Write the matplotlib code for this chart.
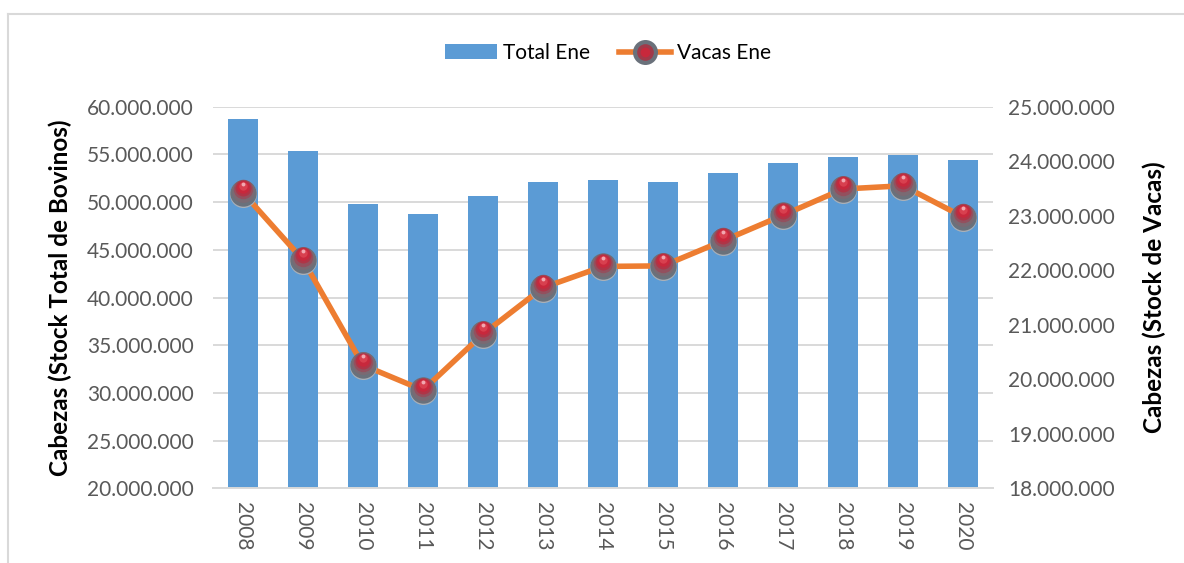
import matplotlib
matplotlib.use('Agg')
import numpy as np
import matplotlib.pyplot as plt
from matplotlib.ticker import FuncFormatter, MultipleLocator
from matplotlib.transforms import offset_copy
from matplotlib.lines import Line2D
from matplotlib.patches import Patch
from matplotlib.legend_handler import HandlerTuple

plt.rcParams['font.family'] = ['Lato', 'DejaVu Sans']

years = ['2008', '2009', '2010', '2011', '2012', '2013', '2014',
         '2015', '2016', '2017', '2018', '2019', '2020']
total_ene = [58.7e6, 55.4e6, 49.8e6, 48.8e6, 50.6e6, 52.1e6, 52.3e6,
             52.1e6, 53.1e6, 54.1e6, 54.7e6, 54.9e6, 54.4e6]
vacas_ene = [23.42e6, 22.19e6, 20.26e6, 19.80e6, 20.83e6, 21.68e6, 22.07e6,
             22.08e6, 22.54e6, 23.01e6, 23.49e6, 23.55e6, 22.98e6]

BLUE = '#5B9BD5'
ORANGE = '#ED7D31'
GRID = '#D9D9D9'
TICK = '#595959'

fig = plt.figure(figsize=(11.84, 5.63), dpi=100)
W, H = 1184, 563

# outer chart border (top and left visible)
fig.add_artist(Line2D([8 / W, 1.0], [1 - 14 / H] * 2, transform=fig.transFigure,
                      color=GRID, lw=1.5))
fig.add_artist(Line2D([8 / W] * 2, [0.0, 1 - 14 / H], transform=fig.transFigure,
                      color=GRID, lw=1.5))

left, right, top, bottom = 213, 993, 106.7, 488.3
ax = fig.add_axes([left / W, 1 - bottom / H, (right - left) / W, (bottom - top) / H])

x = np.arange(len(years))
ax.bar(x, total_ene, width=0.5, color=BLUE, zorder=2)
ax.set_xlim(-0.5, len(years) - 0.5)
ax.set_ylim(20e6, 60e6)
ax.yaxis.set_major_locator(MultipleLocator(5e6))
fmt = FuncFormatter(lambda v, p: f'{int(round(v)):,}'.replace(',', '.'))
ax.yaxis.set_major_formatter(fmt)
ax.grid(axis='y', color=GRID, lw=1.4, zorder=0)
ax.set_axisbelow(True)
for s in ['left', 'right', 'top']:
    ax.spines[s].set_visible(False)
ax.spines['bottom'].set_color(GRID)
ax.spines['bottom'].set_linewidth(1.4)
ax.set_xticks(x)
ax.set_xticklabels(years, rotation=270)
ax.tick_params(axis='y', length=0, labelcolor=TICK, labelsize=15, pad=14)
ax.tick_params(axis='x', length=0, labelcolor=TICK, labelsize=15, pad=10)
ax.set_ylabel('Cabezas (Stock Total de Bovinos)', fontsize=17.5, fontweight='bold', color='black')
ax.yaxis.set_label_coords(-0.181, 0.5)

ax2 = ax.twinx()
ax2.set_ylim(18e6, 25e6)
ax2.yaxis.set_major_locator(MultipleLocator(1e6))
ax2.yaxis.set_major_formatter(fmt)
for s in ['left', 'right', 'top', 'bottom']:
    ax2.spines[s].set_visible(False)
ax2.tick_params(axis='y', length=0, labelcolor=TICK, labelsize=15, pad=11)
ax2.set_ylabel('Cabezas (Stock de Vacas)', fontsize=17.5, fontweight='bold', color='black',
               rotation=90)
ax2.yaxis.set_label_coords(1.192, 0.5)

ax2.plot(x, vacas_ene, color=ORANGE, lw=4, zorder=3, solid_capstyle='round')

# sphere-like markers: layered circles (size pt, colour, vertical offset pt)
layers = [
    (19.5, '#a9b0b8', -0.6),
    (19.0, '#6a717b', 0.0),
    (16.5, '#7a6a73', 1.2),
    (14.0, '#93505e', 2.4),
    (11.5, '#b03446', 3.3),
    (9.0, '#c8283c', 4.0),
    (6.0, '#d8404f', 4.8),
    (2.8, '#f2a8b0', 6.2),
]
for ms, col, dy in layers:
    tr = offset_copy(ax2.transData, fig=fig, x=0, y=dy, units='points')
    ax2.plot(x, vacas_ene, linestyle='none', marker='o', ms=ms, color=col,
             markeredgewidth=0, transform=tr, zorder=4)

# legend
h_bar = Patch(facecolor=BLUE, edgecolor='none')
h_line = Line2D([], [], color=ORANGE, lw=4)
h_m1 = Line2D([], [], ls='none', marker='o', ms=18, color='#6a717b', mew=0)
h_m2 = Line2D([], [], ls='none', marker='o', ms=12, color='#a03a4a', mew=0)
h_m3 = Line2D([], [], ls='none', marker='o', ms=7, color='#c8283c', mew=0)
fig.legend([h_bar, (h_line, h_m1, h_m2, h_m3)], ['Total Ene', 'Vacas Ene'],
           handler_map={tuple: HandlerTuple(ndivide=1)},
           loc='center', bbox_to_anchor=(0.5135, 0.906), ncol=2, frameon=False,
           fontsize=15, handlelength=2.5, handleheight=0.7, handletextpad=0.3,
           columnspacing=1.4)

fig.savefig('out.png', dpi=100)
